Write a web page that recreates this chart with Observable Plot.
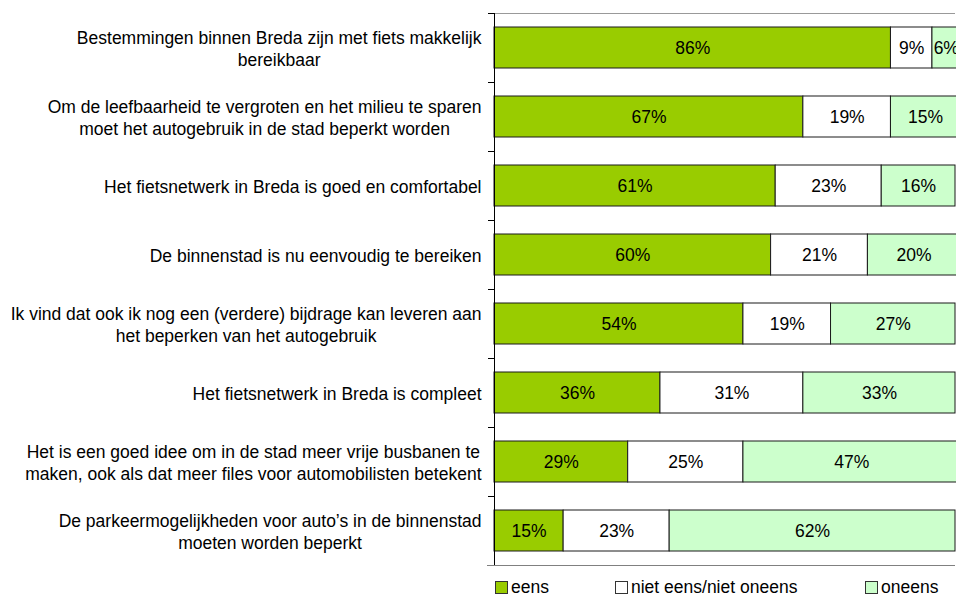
<!DOCTYPE html>
<html>
<head>
<meta charset="utf-8">
<script src="https://cdn.jsdelivr.net/npm/d3@7"></script>
<script src="https://cdn.jsdelivr.net/npm/@observablehq/plot@0.6"></script>
<style>
  html, body { margin: 0; padding: 0; background: #fff; }
  #chart { position: relative; width: 956px; height: 595px; overflow: hidden; font-family: "Liberation Sans", Arial, sans-serif; }
  #legend { position: absolute; left: 0; top: 577px; width: 956px; height: 18px; font-size: 17.5px; color: #000; }
  .item { position: absolute; top: 0; display: flex; align-items: center; height: 20px; white-space: nowrap; }
  .sw { width: 11px; height: 11px; border: 1px solid #333; margin-right: 3px; box-sizing: content-box; }
</style>
</head>
<body>
<div id="chart"><div id="legend"></div></div>
<script>
const questions = [
  "Bestemmingen binnen Breda zijn met fiets makkelijk\nbereikbaar",
  "Om de leefbaarheid te vergroten en het milieu te sparen\nmoet het autogebruik in de stad beperkt worden",
  "Het fietsnetwerk in Breda is goed en comfortabel",
  "De binnenstad is nu eenvoudig te bereiken",
  "Ik vind dat ook ik nog een (verdere) bijdrage kan leveren aan\nhet beperken van het autogebruik",
  "Het fietsnetwerk in Breda is compleet",
  "Het is een goed idee om in de stad meer vrije busbanen te\nmaken, ook als dat meer files voor automobilisten betekent",
  "De parkeermogelijkheden voor auto’s in de binnenstad\nmoeten worden beperkt"
];
const answers = ["eens", "niet eens/niet oneens", "oneens"];
const eens     = [86, 67, 61, 60, 54, 36, 29, 15];
const neutraal = [ 9, 19, 23, 21, 19, 31, 25, 23];
const oneens   = [ 6, 15, 16, 20, 27, 33, 47, 62];
const colors = ["#99CC00", "#FFFFFF", "#CCFFCC"];

const series = [eens, neutraal, oneens];
const data = [];
questions.forEach((q, i) => {
  answers.forEach((a, j) => data.push({question: q, answer: a, value: series[j][i]}));
});

const W = 956, H = 575, mTop = 13, mBottom = 10;
const step = (H - mTop - mBottom) / questions.length;
const stackOpts = {x: "value", y: "question", z: "answer", order: answers};

const chart = Plot.plot({
  width: W,
  height: H,
  marginLeft: 494,
  marginRight: 1,
  marginTop: mTop,
  marginBottom: mBottom,
  style: {fontFamily: "'Liberation Sans', Arial, sans-serif", fontSize: "17.5px", color: "#000", background: "#fff"},
  x: {domain: [0, 100], axis: null},
  y: {domain: questions, axis: null, paddingInner: 0.41, paddingOuter: 0.205},
  color: {domain: answers, range: colors},
  marks: [
    Plot.ruleY(questions.slice(0, 1), {y: d => d, dy: -step / 2, stroke: "#999", strokeWidth: 1}),
    Plot.ruleY(questions.slice(-1), {y: d => d, dy: step / 2, x1: 0, x2: 100, insetLeft: -7, stroke: "#808080", strokeWidth: 1.2}),
    Plot.ruleY(questions, {y: d => d, dy: -step / 2, x1: 0, x2: 0, insetLeft: -6, stroke: "#000", strokeWidth: 1}),
    Plot.barX(data, Plot.stackX({...stackOpts, fill: "answer", stroke: "#1a1a1a", strokeWidth: 1, inset: 0})),
    Plot.text(data, Plot.stackX({...stackOpts, text: d => d.value + "%", fill: "#000"})),
    Plot.ruleX([0], {stroke: "#000", strokeWidth: 1}),
    Plot.text(questions, {y: d => d, text: d => d, frameAnchor: "left", dx: -13, textAnchor: "end", lineHeight: 1.26, fill: "#000", className: "qlabel"})
  ]
});

const host = document.getElementById("chart");
host.insertBefore(chart, host.firstChild);

// center multi-line labels within their right-aligned block
chart.querySelectorAll(".qlabel text").forEach(t => {
  const spans = t.querySelectorAll("tspan");
  if (spans.length > 1) {
    const maxW = d3.max(Array.from(spans), s => s.getComputedTextLength());
    t.setAttribute("text-anchor", "middle");
    spans.forEach(s => s.setAttribute("x", (parseFloat(s.getAttribute("x")) || 0) - maxW / 2));
  }
});

// legend
const legendX = [495, 615, 865];
const legend = document.getElementById("legend");
answers.forEach((a, j) => {
  const item = document.createElement("div");
  item.className = "item";
  item.style.left = legendX[j] + "px";
  const sw = document.createElement("div");
  sw.className = "sw";
  sw.style.background = colors[j];
  const lab = document.createElement("span");
  lab.textContent = a;
  item.appendChild(sw);
  item.appendChild(lab);
  legend.appendChild(item);
});
</script>
</body>
</html>
